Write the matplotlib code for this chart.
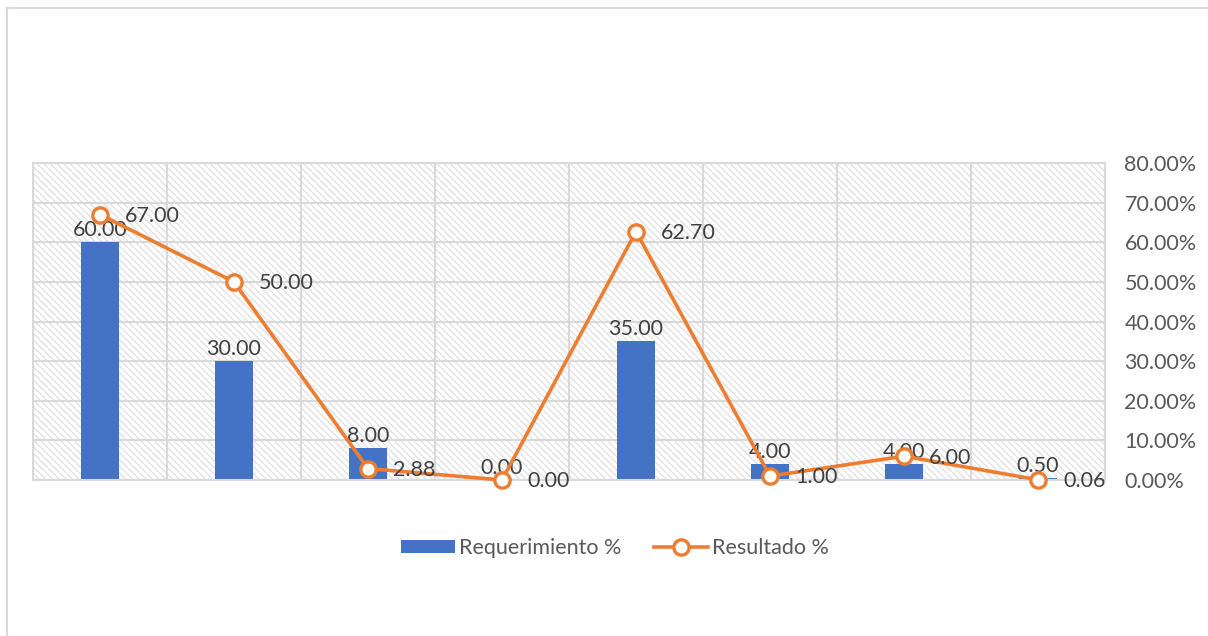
import matplotlib
matplotlib.use("Agg")
import matplotlib.pyplot as plt
from matplotlib.patches import Rectangle
from matplotlib.lines import Line2D
from matplotlib.ticker import FuncFormatter, FixedLocator
import numpy as np

categories = ["C1", "C2", "C3", "C4", "C5", "C6", "C7", "C8"]
requerimiento = [60.00, 30.00, 8.00, 0.00, 35.00, 4.00, 4.00, 0.50]
resultado = [67.00, 50.00, 2.88, 0.00, 62.70, 1.00, 6.00, 0.06]
y_ticks = [0, 10, 20, 30, 40, 50, 60, 70, 80]

BLUE = "#4472C4"
ORANGE = "#ED7D31"
GRID = "#D9D9D9"
TXT = "#404040"
AX_TXT = "#595959"
FS = 15.5

plt.rcParams['font.family'] = ['Lato', 'DejaVu Sans']
plt.rcParams['hatch.linewidth'] = 0.9

W, H = 1208, 636
fig = plt.figure(figsize=(W / 100, H / 100), dpi=100)
fig.patch.set_facecolor("white")

left, right, top, bottom = 33, 1105, 163, 480
ax = fig.add_axes([left / W, 1 - bottom / H, (right - left) / W, (bottom - top) / H])

x = np.arange(len(categories))
ax.set_xlim(-0.5, len(categories) - 0.5)
ax.set_ylim(0, 80)

# hatched background
ax.patch.set_facecolor("white")
bg = Rectangle((0, 0), 1, 1, transform=ax.transAxes, facecolor="white",
               edgecolor="#E0E0E0", hatch="\\\\\\\\\\", linewidth=0, zorder=0)
ax.add_patch(bg)

# gridlines
ax.yaxis.set_major_locator(FixedLocator(y_ticks))
ax.xaxis.set_major_locator(FixedLocator(np.arange(-0.5, len(categories), 1.0)))
ax.grid(True, color=GRID, linewidth=1.5, zorder=1)
ax.set_axisbelow(True)
for s in ax.spines.values():
    s.set_color(GRID)
    s.set_linewidth(1.5)

bars = ax.bar(x, requerimiento, width=0.285, color=BLUE, zorder=2,
              label="Requerimiento %")
ax.bar_label(bars, labels=[f"{v:.2f}" for v in requerimiento], padding=1.5,
             fontsize=FS, color=TXT)

ax.plot(x, resultado, color=ORANGE, linewidth=2.6, marker="o", markersize=11,
        markerfacecolor="white", markeredgecolor=ORANGE, markeredgewidth=2.4,
        zorder=3, label="Resultado %", clip_on=False)
for xi, v in zip(x, resultado):
    ax.annotate(f"{v:.2f}", (xi, v), xytext=(18, -1), textcoords="offset points",
                ha="left", va="center", fontsize=FS, color=TXT, zorder=4)

ax.tick_params(axis="x", length=0, labelbottom=False)
ax.yaxis.tick_right()
ax.tick_params(axis="y", length=0, pad=14, labelsize=FS, labelcolor=AX_TXT)
ax.yaxis.set_major_formatter(FuncFormatter(lambda v, p: f"{v:.2f}%"))

# legend
handles = [Rectangle((0, 0), 1, 1, facecolor=BLUE),
           Line2D([0], [0], color=ORANGE, linewidth=2.6, marker="o", markersize=11,
                  markerfacecolor="white", markeredgecolor=ORANGE, markeredgewidth=2.4)]
fig.legend(handles, ["Requerimiento %", "Resultado %"], loc="center",
           bbox_to_anchor=(615 / W, 1 - 548 / H), ncol=2, frameon=False,
           fontsize=FS, handlelength=2.5, handleheight=0.55, columnspacing=1.5,
           handletextpad=0.2, labelcolor=AX_TXT)

# outer chart border (partially visible)
fig.add_artist(Line2D([7.5 / W, 1.0], [1 - 7.5 / H, 1 - 7.5 / H],
                      transform=fig.transFigure, color=GRID, linewidth=1.5))
fig.add_artist(Line2D([7.5 / W, 7.5 / W], [0, 1 - 7.5 / H],
                      transform=fig.transFigure, color=GRID, linewidth=1.5))

fig.savefig("out.png", dpi=100, facecolor="white")
